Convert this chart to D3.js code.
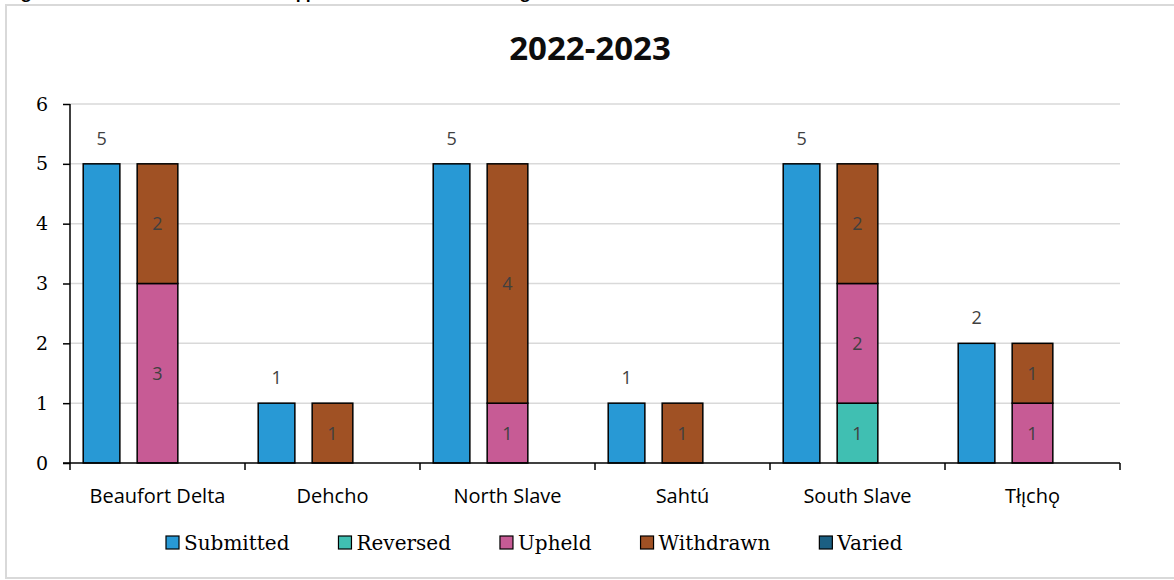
<!DOCTYPE html>
<html>
<head>
<meta charset="utf-8">
<script src="https://cdn.jsdelivr.net/npm/d3@7"></script>
<style>
  html, body { margin: 0; padding: 0; background: #ffffff; }
  svg { display: block; }
</style>
</head>
<body>
<svg id="chart" width="1174" height="580"></svg>
<script>
// ---- data ----
const categories = ["Beaufort Delta", "Dehcho", "North Slave", "Sahtú", "South Slave", "Tłı̨chǫ"];
const submitted = [5, 1, 5, 1, 5, 2];
const reversed  = [0, 0, 0, 0, 1, 0];
const upheld    = [3, 0, 1, 0, 2, 1];
const withdrawn = [2, 1, 4, 1, 2, 1];
const varied    = [0, 0, 0, 0, 0, 0];
const yTickValues = [0, 1, 2, 3, 4, 5, 6];
const seriesNames = ["Submitted", "Reversed", "Upheld", "Withdrawn", "Varied"];
const stackKeys = ["Reversed", "Upheld", "Withdrawn", "Varied"];
const chartTitle = "2022-2023";
const figureCaption = "Figure 3: Number of Decisions and Appeals Submitted in Each Region";

// ---- styles ----
const colors = {
  Submitted: "#2899d5",
  Reversed: "#40bfb2",
  Upheld: "#c75b95",
  Withdrawn: "#a05124",
  Varied: "#1b5f82"
};
const sansFont = "'Open Sans', 'Noto Sans', sans-serif";
const serifFont = "'DejaVu Serif', serif";

const svg = d3.select("#chart");

// caption cut off at the top
svg.append("text")
  .attr("x", 8).attr("y", -2)
  .attr("font-family", sansFont).attr("font-weight", "bold").attr("font-size", 16)
  .attr("fill", "#000").text(figureCaption);

// outer border
svg.append("rect")
  .attr("x", 6).attr("y", 5).attr("width", 1180).attr("height", 573)
  .attr("fill", "none").attr("stroke", "#d9d9d9").attr("stroke-width", 2);

// title
svg.append("text")
  .attr("x", 590).attr("y", 60)
  .attr("text-anchor", "middle")
  .attr("font-family", sansFont).attr("font-weight", "bold").attr("font-size", 33)
  .attr("fill", "#0d0d0d").text(chartTitle);

// ---- scales ----
const plot = { left: 70, right: 1120, top: 104, bottom: 463 };
const x = d3.scaleBand().domain(categories).range([plot.left, plot.right]).padding(0);
const xInner = d3.scaleBand().domain(["Submitted", "Outcome", "_"])
  .range([0, x.bandwidth()]).paddingInner(0.345).paddingOuter(0.236);
const y = d3.scaleLinear().domain([0, 6]).range([plot.bottom, plot.top]);

// gridlines
svg.append("g").selectAll("line")
  .data(yTickValues.filter(d => d > 0))
  .join("line")
  .attr("x1", plot.left).attr("x2", plot.right)
  .attr("y1", d => y(d)).attr("y2", d => y(d))
  .attr("stroke", "#d9d9d9").attr("stroke-width", 1.5);

// rows
const rows = categories.map((c, i) => ({
  category: c,
  Submitted: submitted[i],
  Reversed: reversed[i],
  Upheld: upheld[i],
  Withdrawn: withdrawn[i],
  Varied: varied[i]
}));

// submitted bars
const barG = svg.append("g");
barG.selectAll("rect.sub")
  .data(rows)
  .join("rect")
  .attr("class", "sub")
  .attr("x", d => x(d.category) + xInner("Submitted"))
  .attr("width", xInner.bandwidth())
  .attr("y", d => y(d.Submitted))
  .attr("height", d => y(0) - y(d.Submitted))
  .attr("fill", colors.Submitted)
  .attr("stroke", "#000").attr("stroke-width", 1.5);

barG.selectAll("text.sub")
  .data(rows)
  .join("text")
  .attr("class", "sub")
  .attr("x", d => x(d.category) + xInner("Submitted") + xInner.bandwidth() / 2)
  .attr("y", d => y(d.Submitted) - 19)
  .attr("text-anchor", "middle")
  .attr("font-family", sansFont).attr("font-size", 18)
  .attr("fill", "#404040")
  .text(d => d.Submitted);

// stacked outcome bars
const stacked = d3.stack().keys(stackKeys)(rows);
const extra = 2;
stacked.forEach(layer => {
  const key = layer.key;
  const segs = layer.filter(d => d[1] - d[0] > 0);
  barG.selectAll(null)
    .data(segs)
    .join("rect")
    .attr("x", d => x(d.data.category) + xInner("Outcome") - extra)
    .attr("width", xInner.bandwidth() + 2 * extra)
    .attr("y", d => y(d[1]))
    .attr("height", d => y(d[0]) - y(d[1]))
    .attr("fill", colors[key])
    .attr("stroke", "#000").attr("stroke-width", 1.5);
  barG.selectAll(null)
    .data(segs)
    .join("text")
    .attr("x", d => x(d.data.category) + xInner("Outcome") + xInner.bandwidth() / 2)
    .attr("y", d => (y(d[0]) + y(d[1])) / 2)
    .attr("dy", "0.36em")
    .attr("text-anchor", "middle")
    .attr("font-family", sansFont).attr("font-size", 18)
    .attr("fill", "#404040")
    .text(d => d[1] - d[0]);
});

// y axis
const yAxis = d3.axisLeft(y).tickValues(yTickValues).tickFormat(d3.format("d"))
  .tickSize(7).tickPadding(15);
const yG = svg.append("g").attr("transform", `translate(${plot.left},0)`).call(yAxis);
yG.select(".domain").attr("stroke", "#000").attr("stroke-width", 1.5).attr("d", `M0,${plot.top}V${plot.bottom}`);
yG.selectAll(".tick line").attr("stroke", "#000").attr("stroke-width", 1.5);
yG.selectAll(".tick text")
  .attr("font-family", serifFont).attr("font-size", 19).attr("fill", "#000");

// x axis: line and boundary ticks
const xG = svg.append("g");
xG.append("line")
  .attr("x1", plot.left - 7).attr("x2", plot.right)
  .attr("y1", y(0)).attr("y2", y(0))
  .attr("stroke", "#000").attr("stroke-width", 1.5);
const boundaries = categories.map(c => x(c)).concat([x.range()[1]]);
xG.selectAll("line.tk")
  .data(boundaries)
  .join("line")
  .attr("class", "tk")
  .attr("x1", d => d).attr("x2", d => d)
  .attr("y1", y(0)).attr("y2", y(0) + 7)
  .attr("stroke", "#000").attr("stroke-width", 1.5);
xG.selectAll("text.cat")
  .data(categories)
  .join("text")
  .attr("class", "cat")
  .attr("x", d => x(d) + x.bandwidth() / 2)
  .attr("y", 503)
  .attr("text-anchor", "middle")
  .attr("font-family", sansFont).attr("font-size", 20)
  .attr("fill", "#000")
  .text(d => d);

// legend
const legend = svg.append("g");
let lx = 166;
const legendBaseline = 550;
seriesNames.forEach(name => {
  const g = legend.append("g");
  g.append("rect")
    .attr("x", lx).attr("y", legendBaseline - 14)
    .attr("width", 13).attr("height", 13)
    .attr("fill", colors[name]).attr("stroke", "#000").attr("stroke-width", 1.2);
  const t = g.append("text")
    .attr("x", lx + 18).attr("y", legendBaseline)
    .attr("font-family", serifFont).attr("font-size", 20)
    .attr("fill", "#000")
    .text(name);
  const w = t.node().getComputedTextLength();
  lx += 18 + w + 49;
});
</script>
</body>
</html>
